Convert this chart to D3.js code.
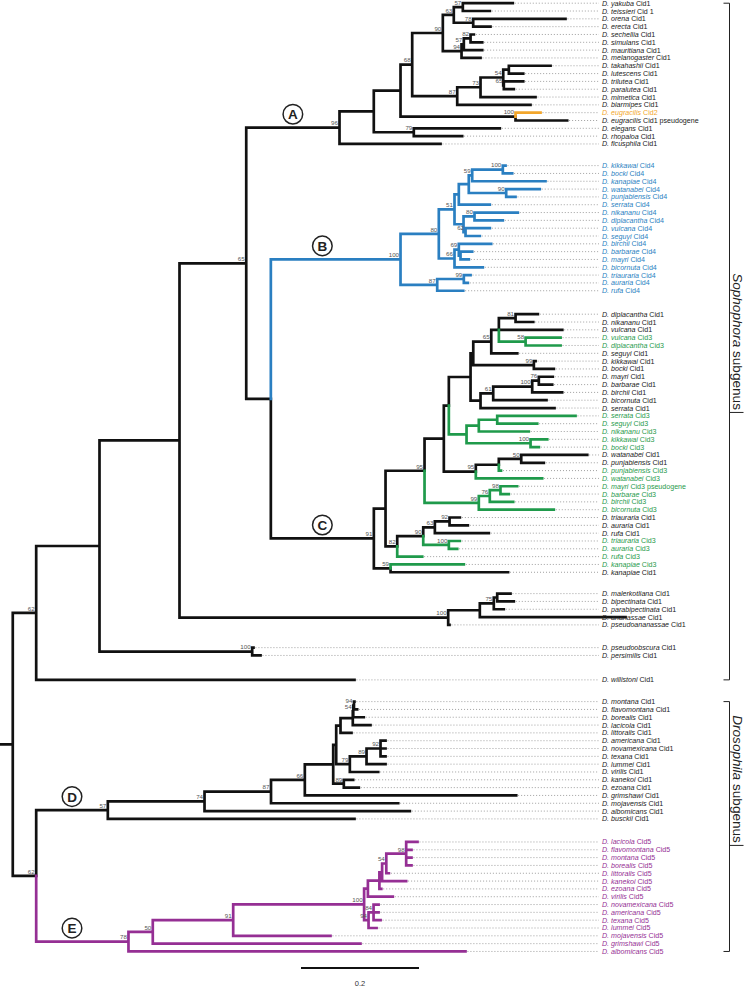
<!DOCTYPE html>
<html><head><meta charset="utf-8">
<script src="https://cdn.jsdelivr.net/npm/d3@7"></script>
<style>body{margin:0;background:#fff}svg{display:block}</style>
</head><body>
<script>
// ---------------- DATA ----------------
// Newick pieces: topology, branch lengths (subst./site), bootstrap support as internal labels
const cladeA = "(((((((D._yakuba_Cid1:0.0847,D._teissieri_Cid_1:0.0458)57:0.0153,(D._orena_Cid1:0.1564,D._erecta_Cid1:0.0293)78:0.0329)63:0.0186,(((D._sechellia_Cid1:0.0056,D._simulans_Cid1:0.0198)82:0.0114,D._mauritiana_Cid1:0.0312)57:0.0039,D._melanogaster_Cid1:0.0322)94:0.0317)90:0.0519,((((D._takahashii_Cid1:0.0707,D._lutescens_Cid1:0.0244):0.0095,(D._trilutea_Cid1:0.0329,D._paralutea_Cid1:0.0169)65:0.0010)54:0.0385,D._mimetica_Cid1:0.0932)73:0.0395,D._biarmipes_Cid1:0.1242)87:0.0763)68:0.0198,(D._eugracilis_Cid2:0.0424,D._eugracilis_Cid1_pseudogene:0.0876)100:0.1949):0.0453,(D._elegans_Cid1:0.1458,D._rhopaloa_Cid1:0.0820)79:0.0678):0.0581,D._ficusphila_Cid1:0.1712)96:0.1581";
const cladeB = "(((((((D._kikkawai_Cid4:0.0046,D._bocki_Cid4:0.0159)100:0.0519,D._kanapiae_Cid4:0.1242)59:0.0058,(D._watanabei_Cid4:0.0569,D._punjabiensis_Cid4:0.0158)90:0.0634):0.0169,D._serrata_Cid4:0.0525):0.0073,((D._nikananu_Cid4:0.0734,D._diplacantha_Cid4:0.0480)80:0.0186,(D._vulcana_Cid4:0.0412,D._seguyi_Cid4:0.0242)62:0.0034):0.0153)51:0.0266,((D._birchii_Cid4:0.0549,(D._barbarae_Cid4:0.0198,D._mayri_Cid4:0.0141):0.0029)69:0.0073,D._bicornuta_Cid4:0.0480)66:0.0266)80:0.0649,((D._triauraria_Cid4:0.0114,D._auraria_Cid4:0.0068)99:0.0451,D._rufa_Cid4:0.0441)87:0.0622)100:0.2198";
const c81 = "(D._diplacantha_Cid1:0.0378,D._nikananu_Cid1:0.0300)81";
const c58 = "(D._vulcana_Cid3:0.0593,D._diplacantha_Cid3:0.0593)58";
const c65 = `((${c81}:0.0283,D._vulcana_Cid1:0.1075,${c58}:0.0453):0.0129,D._seguyi_Cid1:0.0441)65`;
const c99 = "(D._kikkawai_Cid1:0.0029,D._bocki_Cid1:0.0339)99";
const cG2 = "((((D._mayri_Cid1:0.0237,D._barbarae_Cid1:0.0227)76:0.0112,D._birchii_Cid1:0.0508)100:0.0661,D._bicornuta_Cid1:0.0903)61:0.0215,D._serrata_Cid1:0.1254)";
const cGreenA = "(((D._serrata_Cid3:0.1327,D._seguyi_Cid3:0.0678):0.0312,D._nikananu_Cid3:0.0847):0.0208,(D._kikkawai_Cid3:0.0283,D._bocki_Cid3:0.0141)100:0.1085)";
const c95b = "(((D._watanabei_Cid1:0.1119,D._punjabiensis_Cid1:0.0383)50:0.0380,D._punjabiensis_Cid3:0.0037):0.0390,D._watanabei_Cid3:0.1125)95";
const c99g = "(((D._mayri_Cid3_pseudogene:0.0283,D._barbarae_Cid3:0.0141)98:0.0181,D._birchii_Cid3:0.0397)76:0.0186,D._bicornuta_Cid3:0.1271)99";
const c82 = "((((D._triauraria_Cid1:0.0175,D._auraria_Cid1:0.0310)92:0.0249,D._rufa_Cid1:0.0915)63:0.0197,(D._triauraria_Cid3:0.0186,D._auraria_Cid3:0.0142)100:0.0434)90:0.0441,D._rufa_Cid3:0.0424)82";
const c59 = "(D._kanapiae_Cid3:0.1242,D._kanapiae_Cid1:0.1992)59";
const cladeC = `(((((((${c65}:0.0305,${c99}:0.1027):0.0046,${cG2}:0.0169):0.0368,${cGreenA}:0.0300):0.0085,${c95b}:0.0542):0.0327,${c99g}:0.0920)95:0.0661,${c82}:0.0198):0.0198,${c59}:0.0283)91:0.1746`;
const cladeAna = "((((D._malerkotliana_Cid1:0.0225,D._bipectinata_Cid1:0.0281):0.0058,D._parabipectinata_Cid1:0.0169)75:0.0237,D._ananassae_Cid1:0.2469):0.0536,D._pseudoananassae_Cid1:0.0022)100:0.4554";
const cladeObs = "(D._pseudoobscura_Cid1:0.0022,D._persimilis_Cid1:0.0141)100:0.2588";
const cladeD = "((((((((((D._montana_Cid1:0.0008,D._flavomontana_Cid1:0.0054)94:0.0012,D._borealis_Cid1:0.0178)54:0.0008,D._lacicola_Cid1:0.0300):0.0208,D._littoralis_Cid1:0.0186):0.0073,(((D._americana_Cid1:0.0085,D._novamexicana_Cid1:0.0085,D._texana_Cid1:0.0085)92:0.0237,D._lummei_Cid1:0.0322)89:0.0283,D._virilis_Cid1:0.0481)79:0.0231):0.0051,(D._kanekoi_Cid1:0.0159,D._ezoana_Cid1:0.0254)89:0.0180):0.0481,D._grimshawi_Cid1:0.3583)66:0.0573,D._mojavensis_Cid1:0.2156)87:0.1127,D._albomicans_Cid1:0.3480)74:0.1639,D._busckii_Cid1:0.4181)57:0.1214";
const cladeE = "(((((((((D._lacicola_Cid5:0.0192,D._flavomontana_Cid5:0.0090,D._montana_Cid5:0.0090,D._borealis_Cid5:0.0090)98:0.0337,D._littoralis_Cid5:0.0044)54:0.0071,D._kanekoi_Cid5:0.0408):0.0046,D._ezoana_Cid5:0.0032):0.0195,D._virilis_Cid5:0.0422):0.0064,((D._novamexicana_Cid5:0.0085,D._americana_Cid5:0.0085,D._texana_Cid5:0.0119)84:0.0085,D._lummei_Cid5:0.0136)94:0.0075)100:0.2219,D._mojavensis_Cid5:0.1649)91:0.1363,D._grimshawi_Cid5:0.3520)50:0.0412,D._albomicans_Cid5:0.5712)78:0.1564";
const newick = `(((((${cladeA},(${cladeB},${cladeC}):0.0417)65:0.1131,${cladeAna}):0.1356,${cladeObs}):0.1073,D._willistoni_Cid1:0.5395)62:0.0397,(${cladeD},${cladeE})62:0.0397):0.0208;`;

// paralog colours
const paralogs = ["Cid1", "Cid2", "Cid3", "Cid4", "Cid5"];
const paralogColors = ["#111111", "#f2a62c", "#1f9a4b", "#2a7fc1", "#952f94"];
// clade markers: letter + first & last leaf of the clade
const cladeMarks = [["A", "D. yakuba Cid1", "D. ficusphila Cid1"], ["B", "D. kikkawai Cid4", "D. rufa Cid4"],
  ["C", "D. diplacantha Cid1", "D. kanapiae Cid1"], ["D", "D. montana Cid1", "D. busckii Cid1"], ["E", "D. lacicola Cid5", "D. albomicans Cid5"]];
// subgenus: name, first leaf, last leaf, label position along the bracket (0 = top, 1 = bottom)
const subgenera = [["Sophophora", "D. yakuba Cid1", "D. willistoni Cid1", 0.5], ["Drosophila", "D. montana Cid1", "D. albomicans Cid5", 0.31]];
const scaleBarValue = 0.2;

// ---------------- LAYOUT ----------------
const W = 747, H = 996;
const pxPerUnit = 590;
const rowStep = 7.82, firstRow = 3.2;
const gapAfter = {"D. ficusphila Cid1":1.77, "D. rufa Cid4":2.0, "D. kanapiae Cid1":1.73,
  "D. pseudoananassae Cid1":1.91, "D. persimilis Cid1":2.12, "D. willistoni Cid1":1.78, "D. busckii Cid1":1.95};

function parseNewick(s) {
  let i = 0;
  function node() {
    const n = {name: "", length: 0};
    if (s[i] === "(") {
      n.children = []; i++;
      n.children.push(node());
      while (s[i] === ",") { i++; n.children.push(node()); }
      i++;
    }
    let nm = ""; while (i < s.length && !",():;".includes(s[i])) nm += s[i++];
    n.name = nm.replace(/_/g, " ");
    if (s[i] === ":") { i++; let l = ""; while (i < s.length && !",();".includes(s[i])) l += s[i++]; n.length = +l; }
    return n;
  }
  return node();
}
const root = d3.hierarchy(parseNewick(newick));

const x = d3.scaleLinear().domain([0, 1]).range([0.5, 0.5 + pxPerUnit]);
const yRow = d3.scaleLinear().domain([0, 1]).range([firstRow, firstRow + rowStep]);
root.each(d => { d.dist = (d.parent ? d.parent.dist : 0) + d.data.length; });
let row = 0;
root.leaves().forEach(l => { l.row = row; row += 1 + (gapAfter[l.data.name] || 0); });
root.eachAfter(d => { if (d.children) d.row = (d.children[0].row + d.children[d.children.length - 1].row) / 2; });
root.each(d => { d.px = x(d.dist); d.py = yRow(d.row); });

function leafColor(name) {
  const m = name.match(/Cid\s?(\d)/);
  const k = m ? paralogs.indexOf("Cid" + m[1]) : 0;
  return paralogColors[k < 0 ? 0 : k];
}
root.eachAfter(d => {
  if (!d.children) d.color = leafColor(d.data.name);
  else { const cs = new Set(d.children.map(c => c.color)); d.color = cs.size === 1 ? d.children[0].color : paralogColors[0]; }
});

const svg = d3.select("body").append("svg").attr("width", W).attr("height", H)
  .style("font-family", "Liberation Sans, Arial, sans-serif");
svg.append("rect").attr("width", W).attr("height", H).attr("fill", "#fff");

const labelX = 602, dotEnd = 599;
svg.append("g").selectAll("line").data(root.leaves()).join("line")
  .attr("x1", d => d.px + 2).attr("x2", dotEnd).attr("y1", d => d.py).attr("y2", d => d.py)
  .attr("stroke", "#8a8a8a").attr("stroke-width", 0.9).attr("stroke-dasharray", "0.9,2.1");

const links = root.descendants().filter(d => d.parent);
const black = links.filter(d => d.color === paralogColors[0]);
const colored = links.filter(d => d.color !== paralogColors[0]);
const bw = 2.7;
svg.append("path").attr("fill", "none").attr("stroke", paralogColors[0]).attr("stroke-width", bw).attr("stroke-linecap", "square")
  .attr("d", `M0,${root.py}H${root.px}` + black.map(d => `M${d.parent.px},${d.parent.py}V${d.py}H${d.px}`).join(""));
for (const [c, arr] of d3.group(colored, d => d.color)) {
  svg.append("path").attr("fill", "none").attr("stroke", c).attr("stroke-width", bw).attr("stroke-linecap", "square")
    .attr("d", arr.map(d => `M${d.parent.px},${d.parent.py}V${d.py}H${d.px}`).join(""));
}

svg.append("g").selectAll("text").data(root.descendants().filter(d => d.children && d.data.name)).join("text")
  .attr("x", d => d.px - 1.5).attr("y", d => d.py - 2.2).attr("text-anchor", "end")
  .attr("font-size", 6.2).attr("fill", "#555").text(d => d.data.name);

const lab = svg.append("g").selectAll("text").data(root.leaves()).join("text")
  .attr("x", labelX).attr("y", d => d.py + 2.5).attr("font-size", 7.1)
  .attr("fill", d => d.color === paralogColors[0] ? "#222" : d.color);
lab.each(function(d) {
  const m = d.data.name.match(/^(D\. \S+) (.*)$/);
  const t = d3.select(this);
  t.append("tspan").attr("font-style", "italic").text(m ? m[1] : d.data.name);
  if (m) t.append("tspan").text(" " + m[2]);
});

// clade letters in circles, sitting above the clade's stem
const leafByName = new Map(root.leaves().map(l => [l.data.name, l]));
const cladeNodes = cladeMarks.map(([k, a, b]) => {
  const n = leafByName.get(a).path(leafByName.get(b)).reduce((p, q) => (q.depth < p.depth ? q : p));
  return {k, n};
});
const marked = new Set(cladeNodes.map(c => c.n));
cladeNodes.forEach(c => {
  const p = c.n.parent;
  let len = c.n.px - p.px;
  p.children.forEach(s => { if (s !== c.n && marked.has(s)) len = Math.min(len, s.px - p.px); });
  c.cx = p.px + len / 2; c.cy = c.n.py - 13.5;
});
const cg = svg.append("g").selectAll("g").data(cladeNodes).join("g")
  .attr("transform", d => `translate(${d.cx},${d.cy})`);
cg.append("circle").attr("r", 9.8).attr("fill", "#fff").attr("stroke", "#222").attr("stroke-width", 1.5);
cg.append("text").attr("text-anchor", "middle").attr("y", 4.9).attr("font-size", 13.5).attr("font-weight", "bold")
  .attr("fill", "#222").text(d => d.k);

// subgenus brackets
const bx = 729.5;
subgenera.forEach(([g, a, b, f]) => {
  const y1 = leafByName.get(a).py, y2 = leafByName.get(b).py;
  svg.append("path").attr("fill", "none").attr("stroke", "#222").attr("stroke-width", 1)
    .attr("d", `M${bx - 6},${y1}H${bx}V${y2}H${bx - 6}`);
  const yc = y1 + f * (y2 - y1);
  const t = svg.append("text").attr("transform", `translate(${bx + 3.6},${yc}) rotate(90)`)
    .attr("text-anchor", "middle").attr("font-size", 13.6).attr("fill", "#222");
  t.append("tspan").attr("font-style", "italic").text(g);
  t.append("tspan").text(" subgenus");
  const len = t.node().getComputedTextLength();
  const ye = yc + len / 2 + 2.5;
  svg.append("line").attr("x1", bx).attr("x2", bx + 14).attr("y1", ye).attr("y2", ye)
    .attr("stroke", "#222").attr("stroke-width", 1);
});

const sbX = 301, sbY = 968;
svg.append("line").attr("x1", sbX).attr("x2", sbX + x(scaleBarValue) - x(0)).attr("y1", sbY).attr("y2", sbY)
  .attr("stroke", "#111").attr("stroke-width", 2);
svg.append("text").attr("x", sbX + (x(scaleBarValue) - x(0)) / 2).attr("y", sbY + 18).attr("text-anchor", "middle")
  .attr("font-size", 7.5).attr("fill", "#333").text(scaleBarValue);
</script>
</body></html>
